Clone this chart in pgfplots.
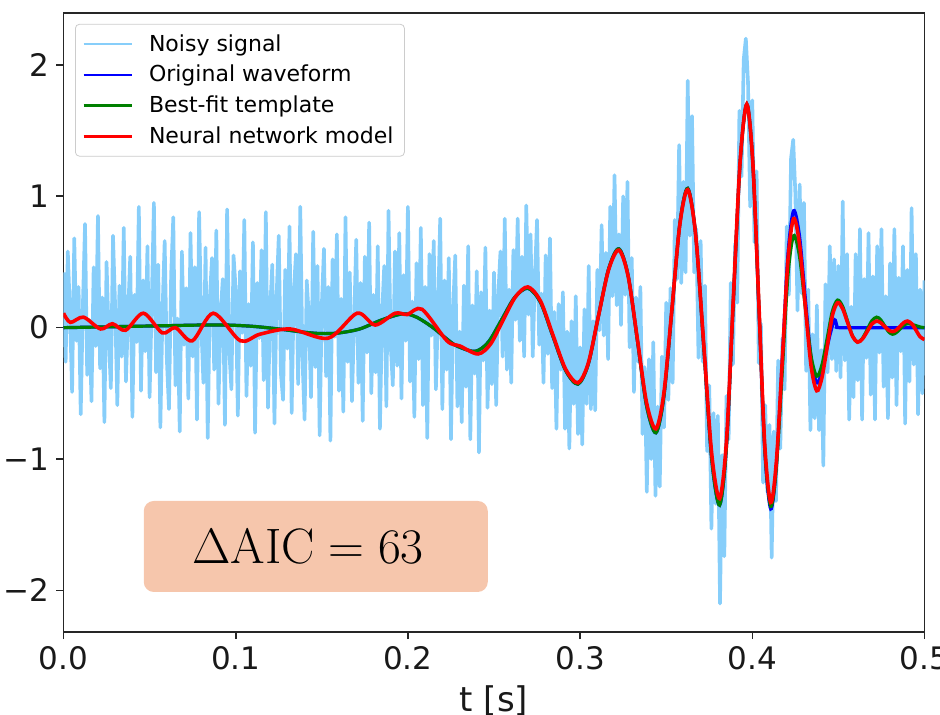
\documentclass[border=0pt]{standalone}
\usepackage[no-math]{fontspec}
\setmainfont{DejaVu Sans}
\usepackage{pgfplots}
\pgfplotsset{compat=1.18}
\definecolor{noisyc}{RGB}{135,206,250}
\definecolor{mplgreen}{RGB}{0,128,0}
\definecolor{mplblue}{RGB}{0,0,255}
\definecolor{mplred}{RGB}{255,0,0}
\definecolor{boxc}{RGB}{246,198,172}

\begin{document}
\begin{tikzpicture}
\begin{axis}[
  name=ax, at={(0,0)}, anchor=south west,
  scale only axis, width=430.5pt, height=309.4pt,
  xmin=0, xmax=0.5, ymin=-2.316, ymax=2.393,
  xtick={0,0.1,0.2,0.3,0.4,0.5},
  xticklabels={0.0,0.1,0.2,0.3,0.4,0.5},
  ytick={-2,-1,0,1,2},
  yticklabels={−2,−1,0,1,2},
  tick align=outside, tick pos=left,
  major tick length=3.5pt,
  every tick/.style={black!85, line width=0.8pt},
  axis line style={black!85, line width=0.8pt},
  ticklabel style={font=\fontsize{15.5}{18}\selectfont, text=black!90},
  xlabel={t [s]},
  xlabel style={font=\fontsize{17}{20}\selectfont, text=black!90, at={(axis description cs:0.5,0)}, anchor=base, yshift=-39.5pt},
  legend cell align=left,
  legend style={at={(0.01336,0.9827)}, anchor=north west, draw=black!20, rounded corners=2pt,
    fill=white, fill opacity=0.8, text opacity=1, font=\fontsize{11}{13}\selectfont,
    inner xsep=3.5pt, inner ysep=3pt, row sep=1.5pt,
    /tikz/every odd column/.append style={column sep=6pt}},
  legend image code/.code={\draw[#1, line width=1.3pt] (0pt,0pt) -- (24pt,0pt);},
]
\addplot[noisyc, line width=1.8pt, line join=round] table[row sep=\\, x expr=\coordindex*0.00125, y index=0] {y\\
0.42\\ -0.26\\ 0.58\\ 0.12\\ -0.49\\ 0.68\\ -0.10\\ 0.31\\ -0.66\\ 0.17\\ 0.79\\ -0.36\\ 0.06\\ -0.56\\ 0.46\\ -0.14\\ 0.85\\ -0.31\\ 0.23\\ -0.72\\
0.50\\ -0.06\\ -0.46\\ 0.70\\ 0.16\\ -0.59\\ 0.32\\ -0.22\\ 0.76\\ -0.41\\ 0.10\\ 0.54\\ -0.68\\ 0.25\\ -0.11\\ 0.92\\ -0.48\\ 0.36\\ -0.18\\ 0.62\\
-0.53\\ 0.19\\ 0.95\\ -0.34\\ 0.48\\ -0.76\\ 0.13\\ 0.66\\ -0.24\\ -0.62\\ 0.40\\ 0.84\\ -0.44\\ 0.07\\ -0.79\\ 0.58\\ -0.13\\ 0.30\\ -0.54\\ 0.72\\
-0.22\\ 0.46\\ -0.70\\ 0.88\\ 0.02\\ -0.42\\ 0.61\\ -0.84\\ 0.23\\ 0.53\\ -0.32\\ 0.74\\ -0.58\\ 0.11\\ 0.37\\ -0.74\\ 0.90\\ -0.17\\ -0.47\\ 0.55\\
0.29\\ -0.67\\ 0.43\\ -0.04\\ 0.82\\ -0.52\\ 0.18\\ -0.29\\ 0.65\\ -0.80\\ 0.34\\ -0.08\\ 0.59\\ -0.40\\ 0.88\\ -0.61\\ 0.14\\ 0.48\\ -0.73\\ 0.24\\
0.70\\ -0.35\\ -0.55\\ 0.44\\ -0.16\\ 0.77\\ -0.65\\ 0.28\\ 0.56\\ -0.43\\ 0.92\\ -0.23\\ -0.70\\ 0.36\\ 0.08\\ -0.53\\ 0.73\\ -0.30\\ 0.47\\ -0.82\\
0.17\\ 0.60\\ -0.37\\ 0.31\\ -0.86\\ 0.52\\ -0.07\\ 0.71\\ -0.48\\ 0.22\\ -0.64\\ 0.84\\ -0.26\\ 0.42\\ -0.56\\ 0.04\\ 0.67\\ -0.42\\ 0.34\\ -0.71\\
0.54\\ -0.19\\ 0.80\\ -0.50\\ 0.25\\ -0.34\\ 0.62\\ -0.77\\ 0.10\\ 0.47\\ -0.60\\ 0.89\\ -0.13\\ -0.44\\ 0.58\\ -0.29\\ 0.72\\ -0.54\\ 0.40\\ -0.10\\
0.92\\ -0.41\\ 0.20\\ -0.68\\ 0.49\\ -0.24\\ 0.76\\ -0.59\\ 0.31\\ -0.84\\ 0.56\\ -0.06\\ 0.66\\ -0.47\\ 0.14\\ 0.83\\ -0.62\\ 0.36\\ -0.32\\ 0.53\\
-0.85\\ 0.14\\ 0.55\\ -0.60\\ -0.03\\ -0.72\\ 0.32\\ -0.45\\ 0.62\\ -0.85\\ 0.17\\ -0.35\\ 0.43\\ -0.95\\ 0.27\\ -0.25\\ 0.61\\ -0.61\\ 0.13\\ -0.43\\
0.42\\ -0.59\\ 0.26\\ 0.58\\ -0.22\\ 0.83\\ -0.32\\ 0.29\\ -0.42\\ 0.59\\ 0.06\\ 0.83\\ -0.10\\ 0.54\\ -0.22\\ 0.93\\ 0.10\\ 0.71\\ -0.22\\ 0.39\\
0.82\\ -0.13\\ 0.26\\ -0.42\\ 0.55\\ -0.20\\ 0.68\\ -0.46\\ 0.12\\ -0.77\\ 0.18\\ -0.32\\ 0.27\\ -0.77\\ -0.03\\ -0.92\\ 0.05\\ -0.58\\ 0.24\\ -0.81\\
-0.15\\ -0.89\\ 0.14\\ -0.58\\ 0.47\\ -0.62\\ 0.05\\ -0.63\\ 0.44\\ -0.02\\ 0.78\\ -0.06\\ 0.57\\ -0.24\\ 0.92\\ 0.24\\ 1.16\\ 0.17\\ 0.71\\ 0.02\\
1.00\\ 0.25\\ 1.11\\ -0.15\\ 0.53\\ -0.49\\ 0.23\\ -0.26\\ 0.31\\ -0.81\\ -0.30\\ -1.25\\ -0.24\\ -1.00\\ -0.11\\ -1.28\\ -0.60\\ -1.21\\ -0.22\\ -0.76\\
0.19\\ -0.55\\ 0.30\\ -0.42\\ 0.82\\ 0.37\\ 1.39\\ 0.34\\ 1.11\\ 0.42\\ 1.88\\ 0.70\\ 1.61\\ 0.42\\ 0.75\\ -0.23\\ 0.66\\ -0.26\\ 0.32\\ -0.94\\
-0.44\\ -1.53\\ -0.65\\ -1.34\\ -0.67\\ -2.10\\ -0.97\\ -1.74\\ -0.52\\ -0.85\\ 0.34\\ -0.28\\ 0.64\\ 0.19\\ 1.65\\ 1.15\\ 2.04\\ 2.20\\ 1.87\\ 0.92\\
1.73\\ 0.65\\ 1.19\\ -0.27\\ 0.03\\ -1.18\\ -0.59\\ -1.25\\ -0.74\\ -1.75\\ -0.79\\ -1.32\\ -0.25\\ -0.92\\ -0.08\\ -0.47\\ 0.77\\ 0.25\\ 1.29\\ 1.43\\
1.02\\ 0.13\\ 1.09\\ 0.26\\ 0.95\\ -0.33\\ 0.29\\ -0.78\\ -0.05\\ -0.69\\ 0.17\\ -0.78\\ -0.17\\ -1.05\\ 0.33\\ -0.34\\ 0.62\\ -0.24\\ 0.52\\ -0.33\\
0.47\\ -0.38\\ 0.96\\ -0.25\\ 0.56\\ -0.70\\ 0.16\\ -0.53\\ 0.56\\ -0.40\\ 0.75\\ -0.70\\ 0.37\\ -0.23\\ 0.72\\ -0.51\\ 0.39\\ -0.70\\ 0.62\\ -0.19\\
0.75\\ -0.45\\ 0.24\\ -0.69\\ 0.49\\ -0.38\\ 0.75\\ -0.59\\ 0.38\\ -0.18\\ 0.62\\ -0.73\\ 0.44\\ -0.41\\ 0.91\\ -0.28\\ 0.56\\ -0.66\\ 0.29\\ -0.50\\
0.36\\
};
\addplot[mplblue, line width=1.6pt, smooth] coordinates {
(0,0) (0.02,0.005) (0.04,0.01) (0.06,0.015) (0.08,0.02) (0.095,0.02) (0.11,0.01) (0.125,-0.01) (0.14,-0.035) (0.15,-0.045) (0.16,-0.04) (0.172,-0.01) (0.185,0.06) (0.197,0.105) (0.205,0.08) (0.2146,0.0) (0.222,-0.08) (0.2285,-0.14) (0.239,-0.18)
(0.2467,-0.11) (0.2544,0.06) (0.2620,0.23) (0.2697,0.30)
(0.2770,0.193) (0.2842,-0.065) (0.2915,-0.323) (0.2987,-0.43)
(0.3047,-0.279) (0.3106,0.085) (0.3166,0.449) (0.3225,0.60)
(0.3279,0.395) (0.3333,-0.10) (0.3386,-0.595) (0.3440,-0.80)
(0.3486,-0.528) (0.3533,0.13) (0.3579,0.788) (0.3625,1.06)
(0.3671,0.707) (0.3718,-0.145) (0.3764,-0.997) (0.3810,-1.35)
(0.3850,-0.903) (0.3889,0.175) (0.3929,1.253) (0.3968,1.70)
(0.4003,1.249) (0.4038,0.16) (0.4072,-0.929) (0.4107,-1.38)
(0.4140,-1.047) (0.4174,-0.245) (0.4207,0.558) (0.4240,0.89)
(0.4274,0.698) (0.4307,0.235) (0.4341,-0.228) (0.4374,-0.42)
(0.4400,-0.35) (0.4426,-0.20) (0.4452,-0.05) (0.4478,0.06) (0.4492,0.01) (0.4505,0.0) (0.47,0.0) (0.5,0.0)
};
\addplot[mplgreen, line width=1.6pt, smooth] coordinates {
(0,0) (0.02,0.005) (0.04,0.01) (0.06,0.015) (0.08,0.02) (0.095,0.02) (0.11,0.01) (0.125,-0.01) (0.14,-0.035) (0.15,-0.045) (0.16,-0.04) (0.172,-0.01) (0.185,0.06) (0.197,0.105) (0.205,0.08) (0.2146,0.0) (0.222,-0.08) (0.2285,-0.14) (0.239,-0.18)
(0.2467,-0.11) (0.2544,0.06) (0.2620,0.23) (0.2697,0.30)
(0.2770,0.193) (0.2842,-0.065) (0.2915,-0.323) (0.2987,-0.43)
(0.3047,-0.279) (0.3106,0.085) (0.3166,0.449) (0.3225,0.60)
(0.3279,0.395) (0.3333,-0.10) (0.3386,-0.595) (0.3440,-0.80)
(0.3486,-0.528) (0.3533,0.13) (0.3579,0.788) (0.3625,1.06)
(0.3671,0.707) (0.3718,-0.145) (0.3764,-0.997) (0.3810,-1.35)
(0.3850,-0.903) (0.3889,0.175) (0.3929,1.253) (0.3968,1.70)
(0.4003,1.252) (0.4038,0.17) (0.4072,-0.912) (0.4107,-1.36)
(0.4140,-1.058) (0.4174,-0.33) (0.4207,0.398) (0.4240,0.70)
(0.4274,0.543) (0.4307,0.165) (0.4341,-0.213) (0.4374,-0.37)
(0.4404,-0.285) (0.4435,-0.08) (0.4465,0.125) (0.4495,0.21)
(0.4524,0.163) (0.4553,0.05) (0.4582,-0.063) (0.4611,-0.11)
(0.4639,-0.082) (0.4667,-0.015) (0.4694,0.052) (0.4722,0.08)
(0.4745,0.061) (0.4768,0.015) (0.4791,-0.031) (0.4814,-0.05)
(0.4836,-0.038) (0.4858,-0.01) (0.4879,0.018) (0.4901,0.03)
(0.4926,0.025) (0.4951,0.015) (0.4975,0.005) (0.5,0.0)
};
\addplot[mplred, line width=1.8pt, smooth] coordinates {
(0,0.11) (0.004,0.04) (0.0116,0.08) (0.0215,-0.01) (0.0284,0.03) (0.036,-0.02) (0.0464,0.11) (0.0574,-0.04) (0.065,0.0) (0.0748,-0.10) (0.087,0.11) (0.1027,-0.10) (0.114,-0.05) (0.1317,-0.01) (0.1537,-0.08) (0.1705,0.11) (0.181,0.02) (0.1926,0.11) (0.1996,0.10) (0.2082,0.14) (0.2227,-0.10) (0.2303,-0.14) (0.2407,-0.20)
(0.2480,-0.125) (0.2552,0.055) (0.2625,0.235) (0.2697,0.31)
(0.2770,0.203) (0.2842,-0.055) (0.2915,-0.313) (0.2987,-0.42)
(0.3047,-0.272) (0.3106,0.085) (0.3166,0.442) (0.3225,0.59)
(0.3279,0.391) (0.3333,-0.09) (0.3386,-0.571) (0.3440,-0.77)
(0.3486,-0.503) (0.3533,0.14) (0.3579,0.783) (0.3625,1.05)
(0.3671,0.706) (0.3718,-0.125) (0.3764,-0.956) (0.3810,-1.30)
(0.3850,-0.861) (0.3889,0.20) (0.3929,1.261) (0.3968,1.70)
(0.4003,1.256) (0.4038,0.185) (0.4072,-0.886) (0.4107,-1.33)
(0.4140,-1.014) (0.4174,-0.25) (0.4207,0.514) (0.4240,0.83)
(0.4274,0.638) (0.4307,0.175) (0.4341,-0.288) (0.4374,-0.48)
(0.4404,-0.382) (0.4435,-0.145) (0.4465,0.092) (0.4495,0.19)
(0.4524,0.146) (0.4553,0.04) (0.4582,-0.066) (0.4611,-0.11)
(0.4639,-0.087) (0.4667,-0.03) (0.4694,0.027) (0.4722,0.05)
(0.4745,0.038) (0.4768,0.01) (0.4791,-0.018) (0.4814,-0.03)
(0.4836,-0.018) (0.4858,0.01) (0.4879,0.038) (0.4901,0.05)
(0.4926,0.03) (0.4951,-0.02) (0.4975,-0.07) (0.5,-0.09)
};
\legend{Noisy signal, Original waveform, Best-fit template, Neural network model}
\node[fill=boxc, rounded corners=5pt, minimum width=172pt, minimum height=45.5pt, inner sep=0pt] at (axis cs:0.1465,-1.665) {};
\node[font=\fontsize{24}{28}\selectfont, inner sep=0pt] at (axis cs:0.1421,-1.669) {$\Delta\mathrm{AIC} = 63$};
\node[anchor=base west, inner sep=0pt, font=\fontsize{11}{13}\selectfont, text=black!90] at (rel axis cs:0.002,1) [yshift=3.3pt] {1e−21};
\end{axis}
\pgfresetboundingbox
\useasboundingbox (-31.75pt,-41pt) rectangle (438.25pt,316pt);
\end{tikzpicture}
\end{document}
